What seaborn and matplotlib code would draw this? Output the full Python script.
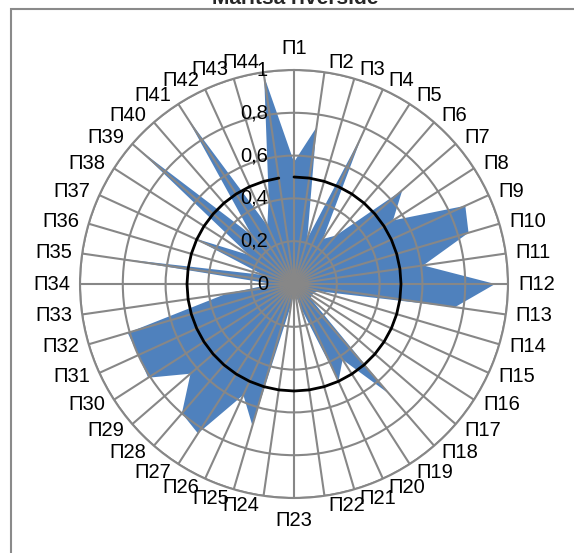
import numpy as np
import seaborn as sns
import matplotlib.pyplot as plt
from matplotlib.patches import Rectangle

sns.set_theme(style="white")
plt.rcParams['font.family'] = ['Liberation Sans', 'DejaVu Sans']

title = "Maritsa riverside"
categories = ["П1", "П2", "П3", "П4", "П5", "П6", "П7", "П8", "П9", "П10", "П11",
              "П12", "П13", "П14", "П15", "П16", "П17", "П18", "П19", "П20", "П21", "П22",
              "П23", "П24", "П25", "П26", "П27", "П28", "П29", "П30", "П31", "П32", "П33",
              "П34", "П35", "П36", "П37", "П38", "П39", "П40", "П41", "П42", "П43", "П44"]
values = [0.57, 0.74, 0.22, 0.78, 0.25, 0.30, 0.67, 0.55, 0.88, 0.85, 0.61,
          0.94, 0.76, 0.12, 0.10, 0.10, 0.10, 0.68, 0.42, 0.50, 0.12, 0.05,
          0.04, 0.10, 0.69, 0.57, 0.83, 0.80, 0.64, 0.81, 0.80, 0.81, 0.32,
          0.10, 0.86, 0.15, 0.52, 0.25, 0.97, 0.30, 0.93, 0.30, 0.42, 0.98]
threshold = 0.5
r_ticks = [0, 0.2, 0.4, 0.6, 0.8, 1.0]
r_labels = ["0", "0,2", "0,4", "0,6", "0,8", "1"]

grid_c = '#878787'
fs = 14.5
PX = 0.72  # pixels -> points at dpi 100

fig = plt.figure(figsize=(5.74, 5.53), dpi=100)
ax = fig.add_axes([80 / 574, 55 / 553, 428 / 574, 428 / 553], projection='polar')

n = len(categories)
theta = np.linspace(0, 2 * np.pi, n, endpoint=False)
theta_c = np.append(theta, theta[0])

ax.set_theta_zero_location('N')
ax.set_theta_direction(-1)
ax.set_ylim(0, 1)
ax.set_xticks(theta)
ax.set_xticklabels([])
ax.set_yticks(r_ticks[1:])
ax.set_yticklabels([])
ax.tick_params(length=0, pad=0)
ax.grid(True, color=grid_c, lw=1.5)
ax.set_axisbelow(False)
ax.spines['polar'].set_color(grid_c)
ax.spines['polar'].set_linewidth(1.5)
ax.set_facecolor('white')

# filled series
ax.fill(theta_c, values + values[:1], color='#4F81BD', lw=0, zorder=1)

# 0.5 reference line
sns.lineplot(x=theta_c, y=[threshold] * (n + 1), ax=ax, color='black', lw=2,
             sort=False, zorder=3)

# radial value labels along the first axis
for r, lab in zip(r_ticks, r_labels):
    ax.annotate(lab, xy=(0, r), xytext=(-26 * PX, 0), textcoords='offset points',
                ha='right', va='center', fontsize=fs, color='black', zorder=5,
                annotation_clip=False)

# category labels
for t, lab in zip(theta, categories):
    s, c = np.sin(t), np.cos(t)
    if abs(s) < 0.01:
        ha, dx, dy = 'center', 0, 22 * np.sign(c)
    else:
        ha = 'left' if s > 0 else 'right'
        dx = np.sign(s) * (3 + 7 * abs(s))
        dy = 9.5 * c
    ax.annotate(lab, xy=(t, 1.0), xytext=(dx * PX, dy * PX), textcoords='offset points',
                ha=ha, va='center', fontsize=fs, color='black', annotation_clip=False)

fig.text(295 / 574, 1 - 4 / 553, title, ha='center', va='baseline',
         fontsize=15, fontweight='bold')

fig.patches.append(Rectangle((11 / 574, -0.05), 1.0, 1 - 9 / 553 + 0.05,
                             transform=fig.transFigure, fill=False,
                             ec='#8a8a8a', lw=1.5))

fig.savefig('out.png', dpi=100)
